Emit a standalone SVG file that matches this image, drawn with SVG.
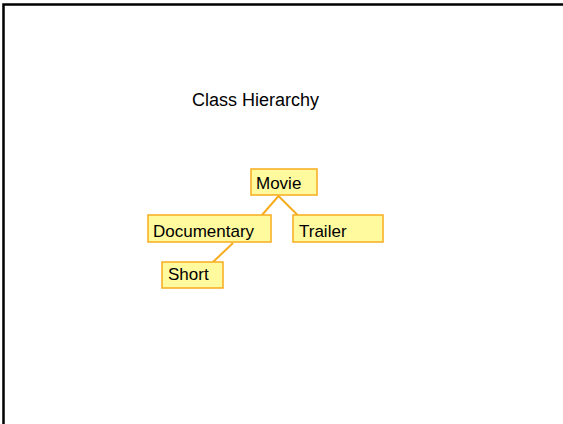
<svg xmlns="http://www.w3.org/2000/svg" width="563" height="424" viewBox="0 0 563 424">
  <style>
    .box { fill: #FFFA9E; stroke: #F7AC1E; stroke-width: 1.5; }
    .lbl { font-family: "Liberation Sans", Arial, sans-serif; font-size: 17px; fill: #000; }
    .link { stroke: #F7AC1E; stroke-width: 2; fill: none; }
  </style>
  <rect width="563" height="424" fill="#ffffff"/>
  <!-- slide frame -->
  <path d="M3.5 424 V4.5 H563" fill="none" stroke="#000" stroke-width="2.5"/>
  <text class="lbl" x="192" y="106" style="font-size:18px">Class Hierarchy</text>

  <g id="connectors">
    <path class="link" d="M262 215 L278.5 196 L297.5 215"/>
    <path class="link" d="M233 243 L213 262"/>
  </g>

  <g id="movie">
    <rect class="box" x="251" y="169" width="66" height="26"/>
    <text class="lbl" x="256" y="188.5">Movie</text>
  </g>
  <g id="documentary">
    <rect class="box" x="148" y="215" width="123" height="27"/>
    <text class="lbl" x="153" y="236.5">Documentary</text>
  </g>
  <g id="trailer">
    <rect class="box" x="293" y="215" width="90" height="27"/>
    <text class="lbl" x="299" y="236.5">Trailer</text>
  </g>
  <g id="short">
    <rect class="box" x="162" y="262" width="61" height="26"/>
    <text class="lbl" x="168" y="280">Short</text>
  </g>
</svg>
